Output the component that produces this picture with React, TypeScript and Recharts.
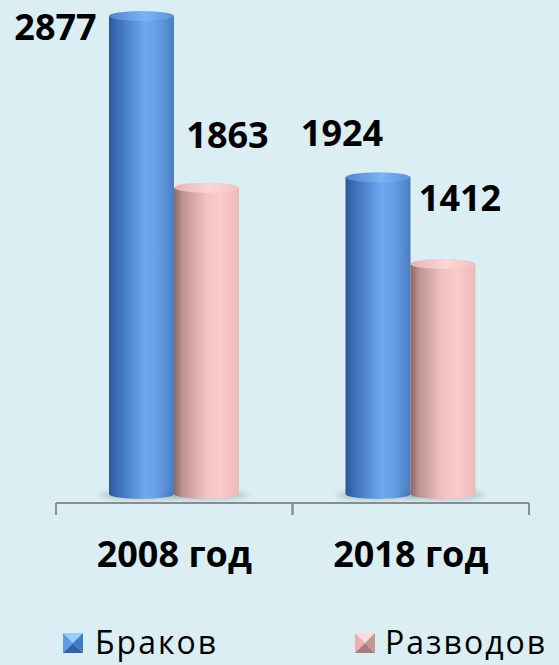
import { BarChart, Bar, XAxis, YAxis, Legend, LabelList } from "recharts";

const years = ["2008 год", "2018 год"];
const marriages = [2877, 1924];
const divorces = [1863, 1412];
const seriesNames = ["Браков", "Разводов"];

const data = years.map((year, i) => ({
  year,
  marriages: marriages[i],
  divorces: divorces[i],
}));

// labels were dragged around by hand in the original, so nudge them per bar
const marriageLabelShift = [
  { dx: -86, dy: 11 },
  { dx: -36, dy: -44 },
];
const divorceLabelShift = [
  { dx: 21, dy: -53 },
  { dx: 17, dy: -66 },
];

const BG = "#DAEEF3";
const LABEL_FONT = "'Open Sans', 'DejaVu Sans', sans-serif";

function Cylinder(props: any) {
  const { x, y, width, height, gradId, topId } = props;
  if (!height || height <= 0) return null;
  const rx = width / 2;
  const ry = 5;
  const bottom = y + height - 9;
  return (
    <g>
      <ellipse cx={x + rx} cy={bottom + 1} rx={rx + 9} ry={ry + 1} fill="rgba(60,70,80,0.18)" filter="url(#soft)" />
      <path
        d={`M${x},${y} L${x},${bottom} A${rx},${ry} 0 0 0 ${x + width},${bottom} L${x + width},${y} Z`}
        fill={`url(#${gradId})`}
      />
      <ellipse cx={x + rx} cy={y} rx={rx} ry={ry} fill={`url(#${topId})`} />
    </g>
  );
}

const makeLabel = (shift: { dx: number; dy: number }[]) => (props: any) => {
  const { x, y, width, value, index } = props;
  const s = shift[index] || { dx: 0, dy: -20 };
  return (
    <text
      x={x + width / 2 + s.dx}
      y={y + s.dy + 13}
      textAnchor="middle"
      fontFamily={LABEL_FONT}
      fontWeight={700}
      fontSize={36}
      fill="#000"
    >
      {value}
    </text>
  );
};

function YearTick(props: any) {
  const { x, y, payload } = props;
  const half = payload.offset || 0;
  return (
    <g>
      <line x1={x - half} y1={y} x2={x - half} y2={y + 12} stroke="#8c8c8c" strokeWidth={2} />
      <line x1={x + half} y1={y} x2={x + half} y2={y + 12} stroke="#8c8c8c" strokeWidth={2} />
      <text
        x={x}
        y={y + 64}
        textAnchor="middle"
        fontFamily={LABEL_FONT}
        fontWeight={700}
        fontSize={36}
        fill="#000"
      >
        {payload.value}
      </text>
    </g>
  );
}

function PyramidIcon({ x, y, s, c }: { x: number; y: number; s: number; c: string[] }) {
  const cx = x + s / 2;
  const cy = y + s / 2;
  return (
    <g>
      <polygon points={`${x},${y} ${x + s},${y} ${cx},${cy}`} fill={c[0]} />
      <polygon points={`${x},${y} ${cx},${cy} ${x},${y + s}`} fill={c[1]} />
      <polygon points={`${x + s},${y} ${x + s},${y + s} ${cx},${cy}`} fill={c[2]} />
      <polygon points={`${x},${y + s} ${cx},${cy} ${x + s},${y + s}`} fill={c[3]} />
    </g>
  );
}

const blueIcon = ["#9CCBF7", "#5E9DE2", "#3F7BC6", "#2F62A6"];
const pinkIcon = ["#FBDCDC", "#E6B2B2", "#C99494", "#A97B7B"];

function LegendBox() {
  return (
    <svg width={559} height={72} style={{ display: "block" }}>
      <PyramidIcon x={63} y={40} s={20} c={blueIcon} />
      <text x={95} y={61} fontFamily={LABEL_FONT} fontSize={32} letterSpacing={2} fill="#000">
        {seriesNames[0]}
      </text>
      <PyramidIcon x={355} y={40} s={20} c={pinkIcon} />
      <text x={385} y={61} fontFamily={LABEL_FONT} fontSize={32} letterSpacing={2} fill="#000">
        {seriesNames[1]}
      </text>
    </svg>
  );
}

export default function App() {
  return (
    <div style={{ width: 559, height: 665, background: BG }}>
      <style>{"body{margin:0;background:" + BG + "}"}</style>
      <BarChart
        width={559}
        height={665}
        data={data}
        margin={{ top: 16, right: 30, left: 56, bottom: 0 }}
        barGap={0}
        barSize={65}
      >
        <defs>
          <linearGradient id="blueBody" x1="0" y1="0" x2="1" y2="0">
            <stop offset="0%" stopColor="#2C5893" />
            <stop offset="15%" stopColor="#3E72BA" />
            <stop offset="55%" stopColor="#6EA8EE" />
            <stop offset="72%" stopColor="#68A0E6" />
            <stop offset="100%" stopColor="#4A7EC4" />
          </linearGradient>
          <linearGradient id="blueTop" x1="0" y1="0" x2="1" y2="0">
            <stop offset="0%" stopColor="#4F86CF" />
            <stop offset="55%" stopColor="#7DB3F2" />
            <stop offset="100%" stopColor="#5C92D8" />
          </linearGradient>
          <linearGradient id="pinkBody" x1="0" y1="0" x2="1" y2="0">
            <stop offset="0%" stopColor="#8A6868" />
            <stop offset="14%" stopColor="#BE9494" />
            <stop offset="50%" stopColor="#F3C3C3" />
            <stop offset="72%" stopColor="#FACBCB" />
            <stop offset="100%" stopColor="#EDB9B9" />
          </linearGradient>
          <linearGradient id="pinkTop" x1="0" y1="0" x2="1" y2="0">
            <stop offset="0%" stopColor="#E2B4B4" />
            <stop offset="55%" stopColor="#FCD6D6" />
            <stop offset="100%" stopColor="#F1C2C2" />
          </linearGradient>
          <filter id="soft" x="-20%" y="-100%" width="140%" height="300%">
            <feGaussianBlur stdDeviation="2" />
          </filter>
        </defs>
        <XAxis
          dataKey="year"
          height={90}
          axisLine={{ stroke: "#8c8c8c", strokeWidth: 2 }}
          tickLine={false}
          tickSize={0}
          tickMargin={0}
          tick={<YearTick />}
          interval={0}
        />
        <YAxis hide domain={[0, "dataMax"]} />
        <Legend verticalAlign="bottom" wrapperStyle={{ left: 0, width: 559, bottom: 0 }} content={() => <LegendBox />} />
        <Bar
          dataKey="marriages"
          name={seriesNames[0]}
          isAnimationActive={false}
          shape={(p: any) => <Cylinder {...p} gradId="blueBody" topId="blueTop" />}
        >
          <LabelList dataKey="marriages" content={makeLabel(marriageLabelShift)} />
        </Bar>
        <Bar
          dataKey="divorces"
          name={seriesNames[1]}
          isAnimationActive={false}
          shape={(p: any) => <Cylinder {...p} gradId="pinkBody" topId="pinkTop" />}
        >
          <LabelList dataKey="divorces" content={makeLabel(divorceLabelShift)} />
        </Bar>
      </BarChart>
    </div>
  );
}
